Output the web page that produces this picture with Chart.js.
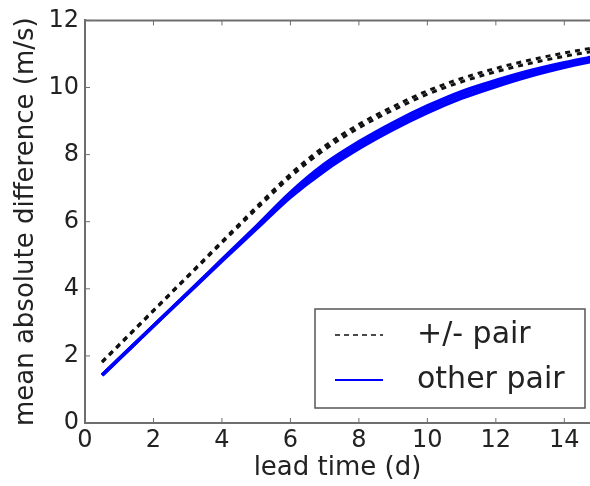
<!DOCTYPE html>
<html>
<head>
<meta charset="utf-8">
<script src="https://cdn.jsdelivr.net/npm/chart.js@4/dist/chart.umd.min.js"></script>
<style>
  html, body { margin: 0; padding: 0; background: #fff; }
  #wrap { width: 590px; height: 486px; }
</style>
</head>
<body>
<div id="wrap"><canvas id="chart" width="590" height="486"></canvas></div>
<script>
'use strict';

// lead time (d)
const leadTime = [0.5, 1, 2, 3, 4, 5, 6, 7, 8, 9, 10, 11, 12, 13, 14, 15];

// +/- pairs (dashed black)
const pmPairA = [1.83, 2.34, 3.36, 4.38, 5.41, 6.43, 7.42, 8.25, 8.9, 9.43, 9.9, 10.27, 10.57, 10.82, 11.03, 11.21];
const pmPairB = [1.81, 2.32, 3.34, 4.36, 5.37, 6.37, 7.34, 8.15, 8.8, 9.33, 9.8, 10.17, 10.47, 10.72, 10.93, 11.11];

// other pairs (solid blue)
const otherPairA = [1.43, 1.92, 2.9, 3.88, 4.87, 5.86, 6.87, 7.72, 8.38, 8.95, 9.45, 9.88, 10.21, 10.5, 10.74, 10.94];
const otherPairB = [1.43, 1.92, 2.9, 3.87, 4.85, 5.82, 6.8, 7.62, 8.28, 8.85, 9.35, 9.78, 10.12, 10.42, 10.67, 10.88];
const otherPairC = [1.42, 1.91, 2.89, 3.86, 4.83, 5.78, 6.73, 7.52, 8.18, 8.75, 9.25, 9.68, 10.03, 10.34, 10.6, 10.82];

const xTickValues = [0, 2, 4, 6, 8, 10, 12, 14];
const yTickValues = [0, 2, 4, 6, 8, 10, 12];

const legendLabels = ['+/- pair', 'other pair'];
const xTitle = 'lead time (d)';
const yTitle = 'mean absolute difference (m/s)';

const FONT = "'DejaVu Sans', sans-serif";
const AXIS_GREY = '#6e6e6e';

function toPoints(ys) {
  return leadTime.map((x, i) => ({ x: x, y: ys[i] }));
}

function dashedSet(ys) {
  return {
    data: toPoints(ys),
    borderColor: '#111',
    borderWidth: 3,
    borderDash: [5, 5],
    pointRadius: 0,
    cubicInterpolationMode: 'monotone',
    fill: false
  };
}

function solidSet(ys) {
  return {
    data: toPoints(ys),
    borderColor: '#0000ff',
    borderWidth: 3.5,
    pointRadius: 0,
    cubicInterpolationMode: 'monotone',
    fill: false
  };
}

// inward ticks, top frame line and the boxed legend
const framePlugin = {
  id: 'frame',
  afterDraw(chart) {
    const ctx = chart.ctx;
    const area = chart.chartArea;
    const xs = chart.scales.x;
    const ys = chart.scales.y;
    ctx.save();
    ctx.strokeStyle = AXIS_GREY;
    ctx.lineWidth = 2;
    ctx.beginPath();
    ctx.moveTo(area.left, area.top);
    ctx.lineTo(area.right, area.top);
    ctx.stroke();

    ctx.lineWidth = 1;
    ctx.beginPath();
    xs.ticks.forEach(t => {
      const px = xs.getPixelForValue(t.value);
      ctx.moveTo(px, area.bottom);
      ctx.lineTo(px, area.bottom - 5);
      ctx.moveTo(px, area.top);
      ctx.lineTo(px, area.top + 5);
    });
    ys.ticks.forEach(t => {
      const py = ys.getPixelForValue(t.value);
      ctx.moveTo(area.left, py);
      ctx.lineTo(area.left + 5, py);
    });
    ctx.stroke();

    // legend box
    const bx = 315, by = 309, bw = 270, bh = 99;
    ctx.fillStyle = '#fff';
    ctx.fillRect(bx, by, bw, bh);
    ctx.strokeStyle = '#555';
    ctx.lineWidth = 1.5;
    ctx.strokeRect(bx, by, bw, bh);

    const rows = [by + 26, by + 71];
    ctx.lineWidth = 1.6;
    ctx.strokeStyle = '#111';
    ctx.setLineDash([5, 4]);
    ctx.beginPath();
    ctx.moveTo(335, rows[0]);
    ctx.lineTo(383, rows[0]);
    ctx.stroke();
    ctx.setLineDash([]);
    ctx.strokeStyle = '#0000ff';
    ctx.lineWidth = 2;
    ctx.beginPath();
    ctx.moveTo(335, rows[1]);
    ctx.lineTo(383, rows[1]);
    ctx.stroke();

    ctx.fillStyle = '#222';
    ctx.font = '30px ' + FONT;
    ctx.textBaseline = 'middle';
    ctx.textAlign = 'left';
    ctx.fillText(legendLabels[0], 417, rows[0]);
    ctx.fillText(legendLabels[1], 417, rows[1]);
    ctx.restore();
  }
};

const canvasElem = document.getElementById('chart');

const myChart = new Chart(canvasElem, {
  type: 'line',
  data: {
    datasets: [
      dashedSet(pmPairA),
      dashedSet(pmPairB),
      solidSet(otherPairA),
      solidSet(otherPairB),
      solidSet(otherPairC)
    ]
  },
  options: {
    responsive: false,
    animation: false,
    layout: { padding: { top: 20, right: 0, left: 0, bottom: 0 } },
    plugins: {
      legend: { display: false },
      tooltip: { enabled: false }
    },
    scales: {
      x: {
        type: 'linear',
        min: 0,
        max: 14.75,
        afterBuildTicks(scale) {
          scale.ticks = xTickValues.map(v => ({ value: v }));
        },
        afterFit(scale) { scale.height = 63; },
        grid: { display: false, drawTicks: false },
        border: { display: true, color: AXIS_GREY, width: 2 },
        ticks: {
          autoSkip: false,
          padding: 3,
          color: '#222',
          font: { family: FONT, size: 24 },
          maxRotation: 0
        },
        title: {
          display: true,
          text: xTitle,
          color: '#222',
          font: { family: FONT, size: 26 },
          padding: { top: 0, bottom: 2 }
        }
      },
      y: {
        type: 'linear',
        min: 0,
        max: 12,
        afterBuildTicks(scale) {
          scale.ticks = yTickValues.map(v => ({ value: v }));
        },
        afterFit(scale) { scale.width = 85; },
        grid: { display: false, drawTicks: false },
        border: { display: true, color: AXIS_GREY, width: 2 },
        ticks: {
          padding: 6,
          color: '#222',
          font: { family: FONT, size: 24 }
        },
        title: {
          display: true,
          text: yTitle,
          color: '#222',
          font: { family: FONT, size: 26 },
          padding: { top: 11, bottom: 0 }
        }
      }
    }
  },
  plugins: [framePlugin]
});
</script>
</body>
</html>
